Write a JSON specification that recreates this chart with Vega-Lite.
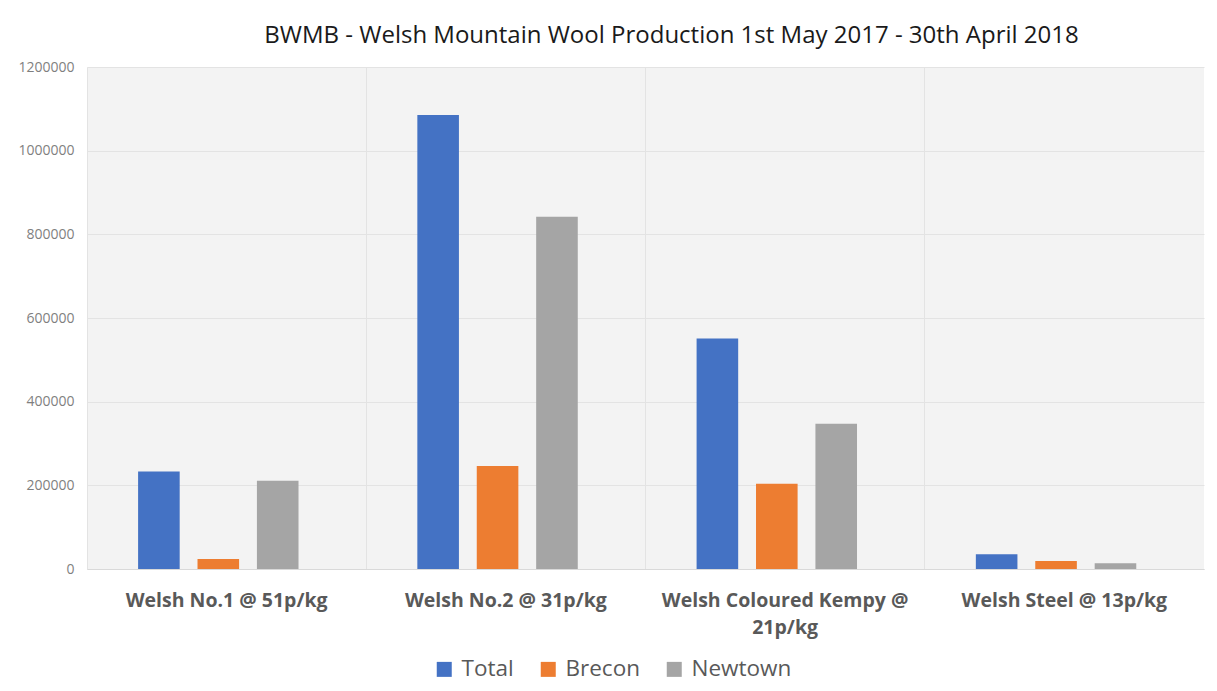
{
  "$schema": "https://vega.github.io/schema/vega-lite/v6.json",
  "autosize": {"type": "fit", "contains": "padding"},
  "width": 1217,
  "height": 691,
  "padding": {"left": 17, "right": 13, "top": 24, "bottom": 54},
  "background": "white",
  "title": {
    "text": "BWMB - Welsh Mountain Wool Production 1st May 2017 - 30th April 2018",
    "font": "Open Sans",
    "fontSize": 24,
    "fontWeight": "normal",
    "color": "#1a1a1a",
    "anchor": "middle",
    "dx": 26,
    "offset": 12
  },
  "data": {
    "values": [
      {"grade": "Welsh No.1 @ 51p/kg", "series": "Total", "kg": 233000},
      {"grade": "Welsh No.1 @ 51p/kg", "series": "Brecon", "kg": 24000},
      {"grade": "Welsh No.1 @ 51p/kg", "series": "Newtown", "kg": 211000},
      {"grade": "Welsh No.2 @ 31p/kg", "series": "Total", "kg": 1085000},
      {"grade": "Welsh No.2 @ 31p/kg", "series": "Brecon", "kg": 246000},
      {"grade": "Welsh No.2 @ 31p/kg", "series": "Newtown", "kg": 842000},
      {"grade": "Welsh Coloured Kempy @ 21p/kg", "series": "Total", "kg": 551000},
      {"grade": "Welsh Coloured Kempy @ 21p/kg", "series": "Brecon", "kg": 204000},
      {"grade": "Welsh Coloured Kempy @ 21p/kg", "series": "Newtown", "kg": 347000},
      {"grade": "Welsh Steel @ 13p/kg", "series": "Total", "kg": 35000},
      {"grade": "Welsh Steel @ 13p/kg", "series": "Brecon", "kg": 19000},
      {"grade": "Welsh Steel @ 13p/kg", "series": "Newtown", "kg": 14000}
    ]
  },
  "mark": {"type": "bar"},
  "encoding": {
    "x": {
      "field": "grade",
      "type": "nominal",
      "sort": null,
      "title": null,
      "scale": {"paddingInner": 0, "paddingOuter": 0},
      "axis": {
        "labelAngle": 0,
        "labelFont": "Open Sans",
        "labelFontSize": 19.5,
        "labelFontWeight": "bold",
        "labelColor": "#595959",
        "labelPadding": 22,
        "labelLineHeight": 27,
        "labelExpr": "datum.value == 'Welsh Coloured Kempy @ 21p/kg' ? ['Welsh Coloured Kempy @', '21p/kg'] : datum.value",
        "ticks": false,
        "domainColor": "#d9d9d9",
        "grid": true,
        "bandPosition": 0,
        "gridColor": "#e3e3e3",
        "labelLimit": 300
      }
    },
    "xOffset": {
      "field": "series",
      "type": "nominal",
      "sort": ["Total", "Brecon", "Newtown"],
      "scale": {"paddingInner": 0.3, "paddingOuter": 1.1, "align": 0.43}
    },
    "y": {
      "field": "kg",
      "type": "quantitative",
      "title": null,
      "scale": {"domain": [0, 1200000], "nice": false},
      "axis": {
        "values": [0, 200000, 400000, 600000, 800000, 1000000, 1200000],
        "format": "d",
        "labelFont": "Open Sans",
        "labelFontSize": 14,
        "labelColor": "#7f7f7f",
        "labelPadding": 13,
        "ticks": false,
        "domain": false,
        "gridColor": "#e3e3e3"
      }
    },
    "color": {
      "field": "series",
      "type": "nominal",
      "sort": ["Total", "Brecon", "Newtown"],
      "scale": {"domain": ["Total", "Brecon", "Newtown"], "range": ["#4472C4", "#ED7D31", "#A5A5A5"]},
      "legend": {
        "title": null,
        "orient": "none",
        "legendX": 346,
        "legendY": 591,
        "direction": "horizontal",
        "symbolType": "square",
        "symbolSize": 225,
        "symbolStrokeWidth": 0,
        "labelFont": "Open Sans",
        "labelFontSize": 22.5,
        "labelColor": "#595959",
        "labelOffset": 6,
        "columnPadding": 23
      }
    }
  },
  "config": {
    "view": {"fill": "#f3f3f3", "stroke": null}
  }
}
